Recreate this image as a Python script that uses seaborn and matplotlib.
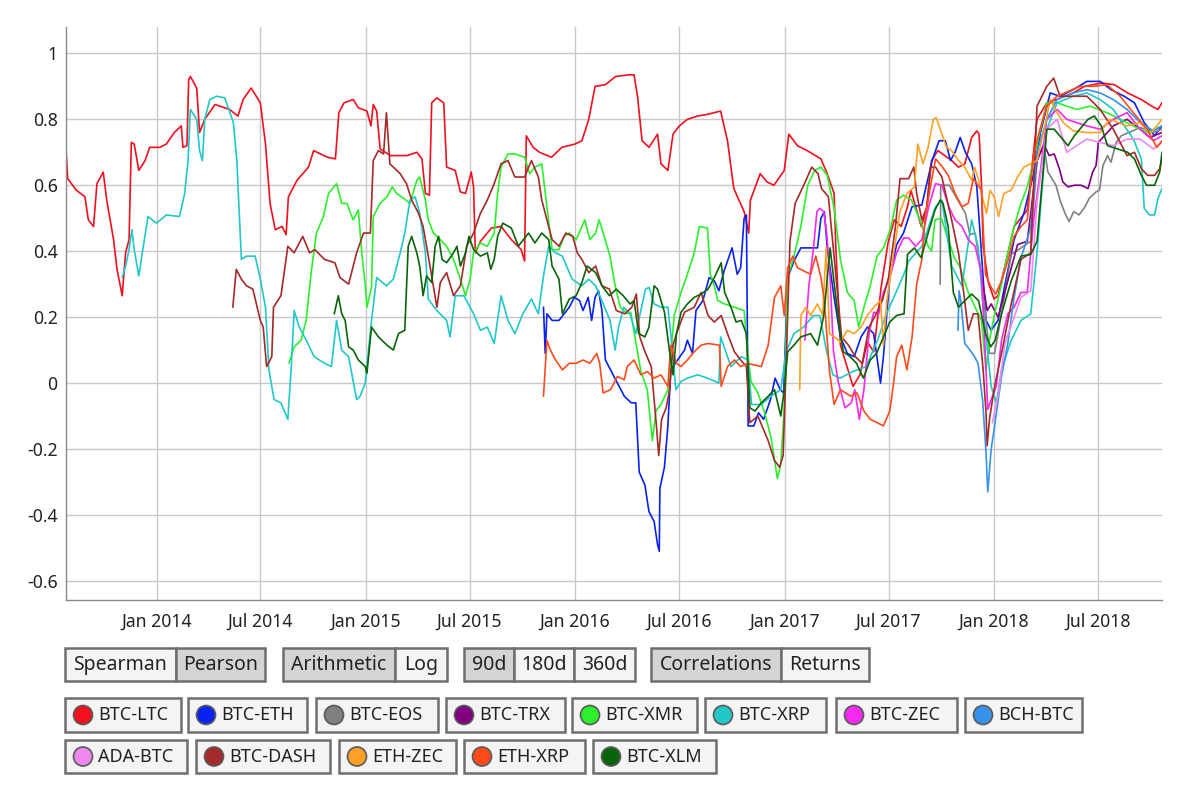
import pandas as pd
import matplotlib.pyplot as plt
import matplotlib.patches as mpatches
import seaborn as sns

# 90d rolling correlations (date, value)
btc_ltc = [
    ("2013-07-27", 0.71), ("2013-07-30", 0.62), ("2013-08-14", 0.585), ("2013-08-29", 0.565),
    ("2013-09-04", 0.495), ("2013-09-13", 0.475), ("2013-09-19", 0.605), ("2013-09-30", 0.64),
    ("2013-10-06", 0.555), ("2013-10-18", 0.435), ("2013-10-24", 0.345), ("2013-11-02", 0.265),
    ("2013-11-08", 0.395), ("2013-11-14", 0.435), ("2013-11-18", 0.73), ("2013-11-23", 0.725),
    ("2013-12-01", 0.645), ("2013-12-12", 0.675), ("2013-12-20", 0.715), ("2014-01-07", 0.715),
    ("2014-01-18", 0.725), ("2014-02-01", 0.76), ("2014-02-13", 0.78), ("2014-02-16", 0.715),
    ("2014-02-23", 0.72), ("2014-02-26", 0.92), ("2014-03-01", 0.93), ("2014-03-12", 0.895),
    ("2014-03-17", 0.76), ("2014-03-26", 0.80), ("2014-04-13", 0.845), ("2014-05-08", 0.83),
    ("2014-05-23", 0.81), ("2014-06-01", 0.86), ("2014-06-15", 0.895), ("2014-07-01", 0.85),
    ("2014-07-10", 0.725), ("2014-07-18", 0.545), ("2014-07-27", 0.465), ("2014-08-08", 0.475),
    ("2014-08-15", 0.45), ("2014-08-19", 0.565), ("2014-09-03", 0.615), ("2014-09-23", 0.655),
    ("2014-10-02", 0.705), ("2014-10-26", 0.685), ("2014-11-09", 0.68), ("2014-11-15", 0.82),
    ("2014-11-24", 0.85), ("2014-12-10", 0.86), ("2014-12-19", 0.835), ("2015-01-03", 0.825),
    ("2015-01-10", 0.78), ("2015-01-14", 0.845), ("2015-01-20", 0.825), ("2015-01-26", 0.71),
    ("2015-02-13", 0.69), ("2015-03-14", 0.69), ("2015-03-31", 0.70), ("2015-04-09", 0.68),
    ("2015-04-15", 0.575), ("2015-04-22", 0.57), ("2015-04-26", 0.85), ("2015-05-05", 0.865),
    ("2015-05-17", 0.85), ("2015-05-22", 0.655), ("2015-06-06", 0.645), ("2015-06-15", 0.58),
    ("2015-06-24", 0.575), ("2015-07-04", 0.64), ("2015-07-08", 0.595), ("2015-07-11", 0.395),
    ("2015-07-20", 0.43), ("2015-08-08", 0.47), ("2015-08-25", 0.475), ("2015-09-12", 0.435),
    ("2015-09-29", 0.405), ("2015-10-05", 0.37), ("2015-10-08", 0.75), ("2015-10-20", 0.715),
    ("2015-10-31", 0.70), ("2015-11-21", 0.685), ("2015-12-09", 0.715), ("2016-01-01", 0.725),
    ("2016-01-13", 0.735), ("2016-01-25", 0.80), ("2016-02-05", 0.90), ("2016-02-23", 0.905),
    ("2016-03-12", 0.93), ("2016-04-04", 0.935), ("2016-04-13", 0.935), ("2016-04-19", 0.87),
    ("2016-04-27", 0.735), ("2016-05-09", 0.715), ("2016-05-24", 0.755), ("2016-05-30", 0.665),
    ("2016-06-11", 0.645), ("2016-06-20", 0.755), ("2016-07-01", 0.78), ("2016-07-15", 0.80),
    ("2016-08-02", 0.81), ("2016-08-19", 0.815), ("2016-09-11", 0.825), ("2016-09-23", 0.735),
    ("2016-10-04", 0.59), ("2016-10-22", 0.52), ("2016-10-30", 0.455), ("2016-11-02", 0.555),
    ("2016-11-19", 0.635), ("2016-12-01", 0.61), ("2016-12-13", 0.60), ("2016-12-31", 0.645),
    ("2017-01-08", 0.755), ("2017-01-23", 0.72), ("2017-02-09", 0.705), ("2017-03-05", 0.68),
    ("2017-03-16", 0.635), ("2017-03-28", 0.575), ("2017-03-31", 0.41), ("2017-04-08", 0.115),
    ("2017-04-30", -0.01), ("2017-05-12", 0.025), ("2017-05-25", 0.125), ("2017-06-05", 0.095),
    ("2017-06-18", 0.29), ("2017-06-30", 0.425), ("2017-07-11", 0.495), ("2017-07-23", 0.475),
    ("2017-08-03", 0.535), ("2017-08-09", 0.585), ("2017-08-27", 0.475), ("2017-09-05", 0.525),
    ("2017-09-14", 0.675), ("2017-09-25", 0.705), ("2017-10-19", 0.675), ("2017-10-31", 0.655),
    ("2017-11-11", 0.665), ("2017-11-23", 0.745), ("2017-12-02", 0.765), ("2017-12-06", 0.755),
    ("2017-12-10", 0.605), ("2017-12-13", 0.415), ("2017-12-22", 0.305), ("2018-01-01", 0.255),
    ("2018-01-08", 0.265), ("2018-02-05", 0.475), ("2018-02-28", 0.525), ("2018-03-17", 0.80),
    ("2018-04-03", 0.85), ("2018-04-20", 0.86), ("2018-05-19", 0.88), ("2018-06-08", 0.90),
    ("2018-07-07", 0.91), ("2018-07-30", 0.905), ("2018-08-22", 0.88), ("2018-09-15", 0.86),
    ("2018-10-03", 0.84), ("2018-10-14", 0.83), ("2018-10-21", 0.85),
]

btc_eth = [
    ("2015-11-07", 0.23), ("2015-11-10", 0.09), ("2015-11-13", 0.21), ("2015-11-22", 0.19),
    ("2015-12-04", 0.19), ("2015-12-13", 0.21), ("2015-12-22", 0.23), ("2015-12-31", 0.26),
    ("2016-01-09", 0.25), ("2016-01-15", 0.22), ("2016-01-24", 0.26), ("2016-01-30", 0.19),
    ("2016-02-05", 0.26), ("2016-02-11", 0.28), ("2016-02-17", 0.22), ("2016-02-23", 0.07),
    ("2016-03-03", 0.04), ("2016-03-15", 0.00), ("2016-03-27", -0.04), ("2016-04-08", -0.06),
    ("2016-04-16", -0.06), ("2016-04-22", -0.27), ("2016-05-02", -0.31), ("2016-05-09", -0.39),
    ("2016-05-18", -0.42), ("2016-05-24", -0.49), ("2016-05-27", -0.51), ("2016-05-28", -0.32),
    ("2016-06-05", -0.255), ("2016-06-11", -0.13), ("2016-06-16", 0.04), ("2016-06-28", 0.07),
    ("2016-07-10", 0.10), ("2016-07-15", 0.13), ("2016-07-24", 0.09), ("2016-07-30", 0.22),
    ("2016-08-11", 0.25), ("2016-08-22", 0.32), ("2016-08-31", 0.31), ("2016-09-08", 0.28),
    ("2016-09-17", 0.34), ("2016-09-23", 0.37), ("2016-10-01", 0.41), ("2016-10-10", 0.33),
    ("2016-10-16", 0.35), ("2016-10-22", 0.50), ("2016-10-26", 0.51), ("2016-10-29", -0.13),
    ("2016-11-08", -0.13), ("2016-11-16", -0.09), ("2016-11-25", -0.11), ("2016-12-07", -0.05),
    ("2016-12-15", 0.015), ("2016-12-24", -0.02), ("2016-12-30", -0.03), ("2017-01-06", 0.32),
    ("2017-01-17", 0.37), ("2017-01-29", 0.41), ("2017-02-15", 0.41), ("2017-02-27", 0.41),
    ("2017-03-05", 0.50), ("2017-03-11", 0.52), ("2017-03-16", 0.41), ("2017-03-28", 0.26),
    ("2017-04-08", 0.14), ("2017-04-20", 0.09), ("2017-05-02", 0.08), ("2017-05-14", 0.14),
    ("2017-05-25", 0.17), ("2017-06-05", 0.15), ("2017-06-17", 0.00), ("2017-06-22", 0.08),
    ("2017-07-03", 0.32), ("2017-07-15", 0.42), ("2017-07-27", 0.455), ("2017-08-11", 0.535),
    ("2017-08-28", 0.54), ("2017-09-15", 0.675), ("2017-09-27", 0.735), ("2017-10-08", 0.735),
    ("2017-10-17", 0.675), ("2017-10-25", 0.70), ("2017-11-03", 0.745), ("2017-11-12", 0.70),
    ("2017-11-23", 0.665), ("2017-12-02", 0.595), ("2017-12-10", 0.395), ("2017-12-18", 0.19),
    ("2017-12-27", 0.16), ("2018-01-08", 0.19), ("2018-01-19", 0.29), ("2018-02-05", 0.435),
    ("2018-02-22", 0.515), ("2018-03-11", 0.635), ("2018-03-23", 0.76), ("2018-04-09", 0.88),
    ("2018-04-26", 0.87), ("2018-05-19", 0.89), ("2018-06-12", 0.915), ("2018-07-05", 0.915),
    ("2018-07-24", 0.89), ("2018-08-16", 0.87), ("2018-09-03", 0.85), ("2018-09-20", 0.79),
    ("2018-10-08", 0.75), ("2018-10-21", 0.78),
]

btc_eos = [
    ("2017-09-29", 0.30), ("2017-09-30", 0.60), ("2017-10-15", 0.60), ("2017-11-12", 0.515),
    ("2017-11-20", 0.45), ("2017-11-29", 0.455), ("2017-12-10", 0.33), ("2017-12-18", 0.19),
    ("2017-12-24", 0.09), ("2018-01-02", 0.09), ("2018-01-14", 0.21), ("2018-01-31", 0.39),
    ("2018-02-17", 0.41), ("2018-03-06", 0.43), ("2018-03-17", 0.675), ("2018-03-29", 0.72),
    ("2018-04-05", 0.64), ("2018-04-19", 0.60), ("2018-04-27", 0.55), ("2018-05-06", 0.51),
    ("2018-05-12", 0.49), ("2018-05-20", 0.52), ("2018-05-29", 0.51), ("2018-06-07", 0.53),
    ("2018-06-16", 0.56), ("2018-06-28", 0.58), ("2018-07-04", 0.585), ("2018-07-10", 0.66),
    ("2018-07-18", 0.69), ("2018-07-24", 0.67), ("2018-08-02", 0.73), ("2018-08-11", 0.75),
    ("2018-09-13", 0.775), ("2018-10-06", 0.76), ("2018-10-21", 0.77),
]

btc_trx = [
    ("2017-12-10", 0.33), ("2017-12-20", 0.22), ("2017-12-27", 0.24), ("2018-01-08", 0.20),
    ("2018-01-25", 0.31), ("2018-02-11", 0.42), ("2018-02-28", 0.43), ("2018-03-17", 0.675),
    ("2018-03-29", 0.725), ("2018-04-07", 0.69), ("2018-04-16", 0.695), ("2018-04-25", 0.65),
    ("2018-05-01", 0.61), ("2018-05-10", 0.595), ("2018-05-21", 0.60), ("2018-06-02", 0.60),
    ("2018-06-14", 0.59), ("2018-06-22", 0.64), ("2018-06-28", 0.66), ("2018-07-02", 0.73),
    ("2018-07-28", 0.78), ("2018-08-21", 0.80), ("2018-09-13", 0.77), ("2018-09-30", 0.745),
    ("2018-10-21", 0.76),
]

btc_xmr = [
    ("2014-08-20", 0.06), ("2014-08-29", 0.11), ("2014-09-10", 0.13), ("2014-09-19", 0.19),
    ("2014-09-28", 0.34), ("2014-10-07", 0.455), ("2014-10-19", 0.505), ("2014-10-28", 0.575),
    ("2014-11-11", 0.605), ("2014-11-20", 0.545), ("2014-11-29", 0.545), ("2014-12-10", 0.495),
    ("2014-12-19", 0.525), ("2014-12-25", 0.395), ("2014-12-31", 0.30), ("2015-01-03", 0.23),
    ("2015-01-11", 0.29), ("2015-01-14", 0.505), ("2015-01-26", 0.545), ("2015-02-07", 0.565),
    ("2015-02-16", 0.595), ("2015-02-24", 0.575), ("2015-03-08", 0.56), ("2015-03-19", 0.545),
    ("2015-03-31", 0.615), ("2015-04-05", 0.625), ("2015-04-15", 0.555), ("2015-04-20", 0.495),
    ("2015-04-29", 0.455), ("2015-05-11", 0.435), ("2015-05-22", 0.415), ("2015-06-03", 0.375),
    ("2015-06-15", 0.315), ("2015-06-24", 0.265), ("2015-07-02", 0.315), ("2015-07-08", 0.395),
    ("2015-07-20", 0.425), ("2015-08-01", 0.415), ("2015-08-13", 0.455), ("2015-08-19", 0.575),
    ("2015-08-25", 0.655), ("2015-09-06", 0.695), ("2015-09-18", 0.695), ("2015-10-05", 0.685),
    ("2015-10-14", 0.635), ("2015-10-23", 0.655), ("2015-11-04", 0.665), ("2015-11-13", 0.535),
    ("2015-11-22", 0.405), ("2015-12-04", 0.405), ("2015-12-13", 0.445), ("2015-12-22", 0.455),
    ("2016-01-03", 0.435), ("2016-01-18", 0.495), ("2016-01-27", 0.435), ("2016-02-06", 0.455),
    ("2016-02-12", 0.495), ("2016-02-21", 0.445), ("2016-03-02", 0.385), ("2016-03-11", 0.295),
    ("2016-03-20", 0.23), ("2016-04-01", 0.21), ("2016-04-07", 0.215), ("2016-04-17", 0.115),
    ("2016-04-25", 0.035), ("2016-05-06", -0.02), ("2016-05-15", -0.175), ("2016-05-21", -0.085),
    ("2016-05-30", -0.065), ("2016-06-11", -0.02), ("2016-06-22", 0.205), ("2016-07-04", 0.275),
    ("2016-07-15", 0.33), ("2016-07-27", 0.395), ("2016-08-05", 0.475), ("2016-08-19", 0.47),
    ("2016-08-24", 0.33), ("2016-08-31", 0.295), ("2016-09-06", 0.25), ("2016-09-18", 0.24),
    ("2016-10-05", 0.23), ("2016-10-22", 0.22), ("2016-10-28", 0.095), ("2016-11-03", 0.005),
    ("2016-11-15", -0.03), ("2016-11-26", -0.085), ("2016-12-08", -0.165), ("2016-12-19", -0.29),
    ("2016-12-25", -0.245), ("2016-12-31", -0.075), ("2017-01-06", 0.32), ("2017-01-17", 0.385),
    ("2017-01-29", 0.475), ("2017-02-10", 0.60), ("2017-02-22", 0.645), ("2017-03-05", 0.655),
    ("2017-03-16", 0.63), ("2017-03-28", 0.53), ("2017-04-08", 0.375), ("2017-04-20", 0.275),
    ("2017-05-02", 0.25), ("2017-05-10", 0.17), ("2017-05-19", 0.23), ("2017-05-30", 0.295),
    ("2017-06-11", 0.385), ("2017-06-22", 0.41), ("2017-07-04", 0.465), ("2017-07-15", 0.555),
    ("2017-07-27", 0.57), ("2017-08-10", 0.555), ("2017-08-27", 0.485), ("2017-09-08", 0.415),
    ("2017-09-14", 0.40), ("2017-09-20", 0.495), ("2017-10-01", 0.50), ("2017-10-13", 0.435),
    ("2017-10-25", 0.375), ("2017-11-02", 0.355), ("2017-11-17", 0.275), ("2017-11-29", 0.23),
    ("2017-12-10", 0.19), ("2017-12-18", 0.04), ("2017-12-24", 0.13), ("2018-01-02", 0.21),
    ("2018-01-14", 0.30), ("2018-01-25", 0.395), ("2018-02-05", 0.475), ("2018-02-17", 0.545),
    ("2018-02-28", 0.595), ("2018-03-11", 0.675), ("2018-03-23", 0.77), ("2018-04-03", 0.85),
    ("2018-04-21", 0.85), ("2018-05-08", 0.84), ("2018-05-25", 0.83), ("2018-06-18", 0.84),
    ("2018-07-17", 0.82), ("2018-08-09", 0.80), ("2018-09-01", 0.78), ("2018-09-25", 0.76),
    ("2018-10-21", 0.78),
]

btc_xrp = [
    ("2013-11-02", 0.32), ("2013-11-08", 0.355), ("2013-11-14", 0.405), ("2013-11-19", 0.465),
    ("2013-11-23", 0.405), ("2013-12-01", 0.325), ("2013-12-08", 0.405), ("2013-12-17", 0.505),
    ("2014-01-01", 0.485), ("2014-01-18", 0.51), ("2014-02-10", 0.505), ("2014-02-19", 0.575),
    ("2014-02-25", 0.675), ("2014-03-01", 0.83), ("2014-03-12", 0.80), ("2014-03-17", 0.705),
    ("2014-03-22", 0.675), ("2014-03-26", 0.80), ("2014-04-04", 0.86), ("2014-04-16", 0.87),
    ("2014-04-30", 0.865), ("2014-05-15", 0.79), ("2014-05-21", 0.675), ("2014-05-29", 0.375),
    ("2014-06-07", 0.385), ("2014-06-22", 0.385), ("2014-07-01", 0.315), ("2014-07-10", 0.23),
    ("2014-07-16", 0.04), ("2014-07-25", -0.05), ("2014-08-06", -0.06), ("2014-08-18", -0.11),
    ("2014-08-24", 0.05), ("2014-08-29", 0.22), ("2014-09-07", 0.17), ("2014-09-19", 0.13),
    ("2014-10-03", 0.08), ("2014-10-21", 0.06), ("2014-11-02", 0.05), ("2014-11-11", 0.19),
    ("2014-11-20", 0.10), ("2014-12-02", 0.08), ("2014-12-16", -0.05), ("2014-12-22", -0.04),
    ("2014-12-31", 0.0), ("2015-01-11", 0.19), ("2015-01-20", 0.32), ("2015-02-06", 0.295),
    ("2015-02-18", 0.315), ("2015-03-02", 0.395), ("2015-03-10", 0.455), ("2015-03-19", 0.555),
    ("2015-03-28", 0.565), ("2015-04-05", 0.515), ("2015-04-15", 0.395), ("2015-04-20", 0.255),
    ("2015-05-05", 0.22), ("2015-05-22", 0.19), ("2015-05-28", 0.14), ("2015-06-06", 0.265),
    ("2015-06-21", 0.265), ("2015-07-08", 0.21), ("2015-07-20", 0.16), ("2015-08-01", 0.17),
    ("2015-08-13", 0.12), ("2015-08-25", 0.265), ("2015-09-06", 0.19), ("2015-09-18", 0.15),
    ("2015-10-02", 0.21), ("2015-10-17", 0.255), ("2015-10-29", 0.21), ("2015-11-07", 0.325),
    ("2015-11-16", 0.415), ("2015-11-28", 0.395), ("2015-12-10", 0.385), ("2015-12-27", 0.315),
    ("2016-01-13", 0.295), ("2016-01-25", 0.315), ("2016-02-06", 0.295), ("2016-02-19", 0.24),
    ("2016-03-02", 0.19), ("2016-03-11", 0.10), ("2016-03-17", 0.17), ("2016-03-26", 0.23),
    ("2016-04-06", 0.21), ("2016-04-16", 0.15), ("2016-05-03", 0.285), ("2016-05-09", 0.29),
    ("2016-05-18", 0.24), ("2016-05-30", 0.23), ("2016-06-11", 0.23), ("2016-06-16", 0.15),
    ("2016-06-25", -0.02), ("2016-07-04", 0.005), ("2016-07-15", 0.015), ("2016-08-02", 0.025),
    ("2016-08-19", 0.015), ("2016-09-08", 0.0), ("2016-09-11", 0.14), ("2016-09-29", 0.05),
    ("2016-10-17", 0.08), ("2016-10-29", 0.07), ("2016-11-04", -0.065), ("2016-11-21", -0.065),
    ("2016-12-08", -0.04), ("2016-12-25", -0.02), ("2017-01-03", 0.095), ("2017-01-17", 0.15),
    ("2017-02-03", 0.17), ("2017-02-20", 0.205), ("2017-03-03", 0.205), ("2017-03-15", 0.095),
    ("2017-03-26", 0.025), ("2017-04-07", 0.015), ("2017-04-30", 0.035), ("2017-05-23", 0.05),
    ("2017-06-14", 0.14), ("2017-06-26", 0.205), ("2017-07-14", 0.275), ("2017-07-30", 0.34),
    ("2017-08-05", 0.37), ("2017-08-28", 0.415), ("2017-09-21", 0.535), ("2017-10-02", 0.555),
    ("2017-10-19", 0.355), ("2017-11-06", 0.295), ("2017-11-23", 0.495), ("2017-12-04", 0.415),
    ("2017-12-15", 0.19), ("2017-12-27", -0.01), ("2018-01-05", -0.06), ("2018-01-14", 0.04),
    ("2018-01-31", 0.13), ("2018-02-17", 0.19), ("2018-03-06", 0.21), ("2018-03-17", 0.395),
    ("2018-04-03", 0.77), ("2018-04-21", 0.85), ("2018-05-19", 0.87), ("2018-06-12", 0.88),
    ("2018-07-05", 0.86), ("2018-07-28", 0.83), ("2018-09-01", 0.74), ("2018-09-15", 0.68),
    ("2018-09-20", 0.53), ("2018-09-29", 0.51), ("2018-10-08", 0.51), ("2018-10-14", 0.56),
    ("2018-10-21", 0.59),
]

btc_zec = [
    ("2017-02-05", 0.13), ("2017-02-12", 0.295), ("2017-02-20", 0.41), ("2017-02-26", 0.52),
    ("2017-03-03", 0.53), ("2017-03-10", 0.52), ("2017-03-15", 0.455), ("2017-03-21", 0.32),
    ("2017-03-27", 0.095), ("2017-04-04", 0.005), ("2017-04-16", -0.075), ("2017-04-27", -0.06),
    ("2017-05-03", -0.02), ("2017-05-11", -0.11), ("2017-05-19", -0.02), ("2017-05-28", 0.15),
    ("2017-06-05", 0.215), ("2017-06-14", 0.21), ("2017-06-22", 0.275), ("2017-07-03", 0.32),
    ("2017-07-15", 0.395), ("2017-07-27", 0.44), ("2017-08-05", 0.44), ("2017-08-17", 0.415),
    ("2017-08-28", 0.435), ("2017-09-09", 0.535), ("2017-09-21", 0.605), ("2017-10-02", 0.60),
    ("2017-10-14", 0.535), ("2017-10-25", 0.495), ("2017-11-06", 0.475), ("2017-11-17", 0.435),
    ("2017-11-29", 0.415), ("2017-12-10", 0.335), ("2017-12-18", 0.04), ("2017-12-21", -0.08),
    ("2017-12-27", -0.05), ("2018-01-05", -0.01), ("2018-01-14", 0.13), ("2018-01-25", 0.21),
    ("2018-02-05", 0.23), ("2018-02-17", 0.275), ("2018-02-28", 0.275), ("2018-03-11", 0.495),
    ("2018-03-23", 0.645), ("2018-04-03", 0.80), ("2018-04-21", 0.83), ("2018-05-08", 0.80),
    ("2018-05-25", 0.79), ("2018-06-12", 0.78), ("2018-07-05", 0.77), ("2018-07-28", 0.80),
    ("2018-08-21", 0.82), ("2018-09-13", 0.77), ("2018-10-06", 0.735), ("2018-10-21", 0.75),
]

bch_btc = [
    ("2017-10-30", 0.16), ("2017-11-01", 0.28), ("2017-11-04", 0.25), ("2017-11-11", 0.12),
    ("2017-11-20", 0.10), ("2017-11-28", 0.08), ("2017-12-04", 0.06), ("2017-12-12", -0.05),
    ("2017-12-18", -0.21), ("2017-12-21", -0.33), ("2017-12-27", -0.20), ("2018-01-02", -0.13),
    ("2018-01-14", 0.02), ("2018-01-25", 0.12), ("2018-02-05", 0.26), ("2018-02-17", 0.38),
    ("2018-03-06", 0.47), ("2018-03-17", 0.70), ("2018-04-03", 0.80), ("2018-04-21", 0.86),
    ("2018-05-19", 0.88), ("2018-06-12", 0.89), ("2018-07-05", 0.88), ("2018-07-28", 0.86),
    ("2018-08-21", 0.83), ("2018-09-13", 0.79), ("2018-10-06", 0.765), ("2018-10-21", 0.78),
]

ada_btc = [
    ("2017-12-29", -0.12), ("2018-01-08", -0.04), ("2018-01-20", 0.12), ("2018-02-05", 0.20),
    ("2018-02-17", 0.26), ("2018-03-06", 0.28), ("2018-03-17", 0.55), ("2018-04-03", 0.77),
    ("2018-04-21", 0.80), ("2018-05-08", 0.70), ("2018-05-25", 0.72), ("2018-06-12", 0.74),
    ("2018-07-05", 0.73), ("2018-07-28", 0.72), ("2018-08-21", 0.74), ("2018-09-13", 0.74),
    ("2018-10-06", 0.71), ("2018-10-21", 0.73),
]

btc_dash = [
    ("2014-05-14", 0.23), ("2014-05-20", 0.345), ("2014-05-29", 0.315), ("2014-06-07", 0.295),
    ("2014-06-18", 0.285), ("2014-07-01", 0.19), ("2014-07-06", 0.17), ("2014-07-12", 0.05),
    ("2014-07-21", 0.08), ("2014-07-24", 0.23), ("2014-08-06", 0.265), ("2014-08-18", 0.415),
    ("2014-08-29", 0.395), ("2014-09-13", 0.445), ("2014-09-25", 0.395), ("2014-10-04", 0.405),
    ("2014-10-21", 0.375), ("2014-11-08", 0.365), ("2014-11-17", 0.32), ("2014-12-02", 0.30),
    ("2014-12-16", 0.395), ("2014-12-28", 0.455), ("2015-01-09", 0.455), ("2015-01-14", 0.675),
    ("2015-01-23", 0.705), ("2015-02-01", 0.695), ("2015-02-06", 0.82), ("2015-02-12", 0.665),
    ("2015-03-02", 0.635), ("2015-03-13", 0.605), ("2015-03-22", 0.555), ("2015-04-03", 0.515),
    ("2015-04-11", 0.475), ("2015-04-23", 0.355), ("2015-05-05", 0.23), ("2015-05-11", 0.305),
    ("2015-05-22", 0.335), ("2015-06-03", 0.265), ("2015-06-15", 0.295), ("2015-06-26", 0.415),
    ("2015-07-08", 0.455), ("2015-07-20", 0.515), ("2015-08-01", 0.555), ("2015-08-13", 0.605),
    ("2015-08-25", 0.665), ("2015-09-06", 0.675), ("2015-09-18", 0.625), ("2015-10-05", 0.625),
    ("2015-10-17", 0.675), ("2015-10-29", 0.625), ("2015-11-04", 0.555), ("2015-11-13", 0.495),
    ("2015-11-22", 0.435), ("2015-12-04", 0.415), ("2015-12-16", 0.455), ("2015-12-28", 0.445),
    ("2016-01-05", 0.395), ("2016-01-13", 0.375), ("2016-01-25", 0.335), ("2016-02-06", 0.355),
    ("2016-02-17", 0.295), ("2016-03-01", 0.285), ("2016-03-13", 0.22), ("2016-03-28", 0.21),
    ("2016-04-09", 0.23), ("2016-04-17", 0.27), ("2016-04-23", 0.14), ("2016-05-02", 0.095),
    ("2016-05-13", 0.05), ("2016-05-22", -0.13), ("2016-05-26", -0.22), ("2016-05-31", -0.11),
    ("2016-06-08", -0.075), ("2016-06-14", -0.02), ("2016-06-20", 0.115), ("2016-06-26", 0.15),
    ("2016-07-10", 0.215), ("2016-07-27", 0.23), ("2016-08-08", 0.275), ("2016-08-20", 0.205),
    ("2016-08-31", 0.185), ("2016-09-12", 0.205), ("2016-09-23", 0.15), ("2016-10-05", 0.095),
    ("2016-10-16", 0.07), ("2016-10-26", 0.05), ("2016-11-01", -0.12), ("2016-11-15", -0.10),
    ("2016-12-03", -0.175), ("2016-12-14", -0.235), ("2016-12-23", -0.255), ("2016-12-29", -0.22),
    ("2017-01-04", 0.095), ("2017-01-10", 0.43), ("2017-01-19", 0.545), ("2017-02-03", 0.60),
    ("2017-02-17", 0.655), ("2017-02-28", 0.635), ("2017-03-06", 0.59), ("2017-03-18", 0.565),
    ("2017-03-29", 0.365), ("2017-04-10", 0.14), ("2017-04-22", 0.115), ("2017-05-04", 0.08),
    ("2017-05-16", 0.06), ("2017-05-28", 0.17), ("2017-06-08", 0.205), ("2017-06-20", 0.25),
    ("2017-07-01", 0.32), ("2017-07-13", 0.475), ("2017-07-21", 0.62), ("2017-08-05", 0.62),
    ("2017-08-14", 0.655), ("2017-08-19", 0.575), ("2017-08-28", 0.495), ("2017-09-06", 0.535),
    ("2017-09-12", 0.655), ("2017-09-21", 0.655), ("2017-10-02", 0.625), ("2017-10-19", 0.495),
    ("2017-10-31", 0.395), ("2017-11-09", 0.275), ("2017-11-17", 0.16), ("2017-11-26", 0.21),
    ("2017-12-04", 0.21), ("2017-12-13", 0.04), ("2017-12-18", -0.09), ("2017-12-20", -0.19),
    ("2017-12-24", -0.11), ("2018-01-02", -0.01), ("2018-01-14", 0.09), ("2018-01-31", 0.24),
    ("2018-02-17", 0.375), ("2018-03-06", 0.395), ("2018-03-17", 0.84), ("2018-04-03", 0.90),
    ("2018-04-15", 0.925), ("2018-04-26", 0.87), ("2018-05-19", 0.87), ("2018-06-12", 0.87),
    ("2018-07-05", 0.83), ("2018-07-28", 0.77), ("2018-08-21", 0.69), ("2018-09-03", 0.70),
    ("2018-09-15", 0.65), ("2018-09-26", 0.63), ("2018-10-08", 0.63), ("2018-10-17", 0.65),
    ("2018-10-21", 0.68),
]

eth_zec = [
    ("2017-01-27", -0.02), ("2017-01-29", 0.205), ("2017-02-07", 0.23), ("2017-02-15", 0.205),
    ("2017-02-27", 0.24), ("2017-03-08", 0.205), ("2017-03-14", 0.41), ("2017-03-20", 0.15),
    ("2017-03-28", 0.14), ("2017-04-08", 0.125), ("2017-04-20", 0.16), ("2017-05-02", 0.15),
    ("2017-05-14", 0.17), ("2017-05-25", 0.205), ("2017-06-05", 0.23), ("2017-06-17", 0.25),
    ("2017-06-22", 0.115), ("2017-06-28", 0.25), ("2017-07-09", 0.385), ("2017-07-21", 0.52),
    ("2017-08-02", 0.575), ("2017-08-15", 0.595), ("2017-08-21", 0.725), ("2017-08-30", 0.665),
    ("2017-09-08", 0.715), ("2017-09-17", 0.80), ("2017-09-22", 0.805), ("2017-10-01", 0.76),
    ("2017-10-10", 0.715), ("2017-10-19", 0.705), ("2017-10-31", 0.675), ("2017-11-11", 0.655),
    ("2017-11-23", 0.615), ("2017-11-28", 0.655), ("2017-12-05", 0.615), ("2017-12-13", 0.555),
    ("2017-12-19", 0.515), ("2017-12-25", 0.585), ("2018-01-01", 0.565), ("2018-01-09", 0.505),
    ("2018-01-18", 0.575), ("2018-01-31", 0.585), ("2018-02-11", 0.625), ("2018-02-22", 0.655),
    ("2018-03-06", 0.665), ("2018-03-17", 0.675), ("2018-03-29", 0.765), ("2018-04-09", 0.86),
    ("2018-04-21", 0.82), ("2018-05-02", 0.79), ("2018-05-19", 0.765), ("2018-06-12", 0.76),
    ("2018-07-05", 0.76), ("2018-07-22", 0.80), ("2018-08-21", 0.78), ("2018-09-13", 0.79),
    ("2018-09-30", 0.755), ("2018-10-21", 0.80),
]

eth_xrp = [
    ("2015-11-07", -0.04), ("2015-11-13", 0.13), ("2015-11-19", 0.10), ("2015-11-28", 0.07),
    ("2015-12-10", 0.04), ("2015-12-22", 0.06), ("2016-01-03", 0.06), ("2016-01-15", 0.07),
    ("2016-01-27", 0.06), ("2016-02-08", 0.09), ("2016-02-13", 0.06), ("2016-02-19", -0.03),
    ("2016-03-03", -0.02), ("2016-03-15", 0.02), ("2016-03-27", 0.01), ("2016-04-01", 0.05),
    ("2016-04-13", 0.07), ("2016-04-25", 0.025), ("2016-05-06", 0.035), ("2016-05-18", 0.015),
    ("2016-05-30", 0.025), ("2016-06-11", -0.01), ("2016-06-16", 0.115), ("2016-06-26", 0.06),
    ("2016-07-04", 0.05), ("2016-07-15", 0.07), ("2016-07-27", 0.095), ("2016-08-08", 0.115),
    ("2016-08-20", 0.12), ("2016-09-09", 0.115), ("2016-09-12", -0.01), ("2016-09-23", 0.05),
    ("2016-10-05", 0.07), ("2016-10-16", 0.05), ("2016-10-28", 0.06), ("2016-11-09", 0.055),
    ("2016-11-21", 0.05), ("2016-12-03", 0.115), ("2016-12-14", 0.26), ("2016-12-25", 0.295),
    ("2016-12-31", 0.205), ("2017-01-06", 0.35), ("2017-01-15", 0.385), ("2017-01-23", 0.35),
    ("2017-02-03", 0.34), ("2017-02-15", 0.33), ("2017-02-24", 0.385), ("2017-03-05", 0.32),
    ("2017-03-11", 0.25), ("2017-03-20", 0.035), ("2017-03-28", -0.065), ("2017-04-08", -0.02),
    ("2017-04-26", -0.04), ("2017-05-07", -0.03), ("2017-05-19", -0.085), ("2017-05-30", -0.11),
    ("2017-06-11", -0.12), ("2017-06-22", -0.13), ("2017-07-03", -0.085), ("2017-07-09", -0.01),
    ("2017-07-15", 0.08), ("2017-07-24", 0.115), ("2017-08-02", 0.04), ("2017-08-11", 0.14),
    ("2017-08-19", 0.30), ("2017-08-28", 0.375), ("2017-09-03", 0.505), ("2017-09-15", 0.625),
    ("2017-09-21", 0.68), ("2017-10-01", 0.66), ("2017-10-13", 0.63), ("2017-10-25", 0.575),
    ("2017-11-06", 0.535), ("2017-11-17", 0.545), ("2017-11-26", 0.62), ("2017-12-04", 0.60),
    ("2017-12-10", 0.585), ("2017-12-17", 0.33), ("2017-12-27", 0.29), ("2018-01-04", 0.27),
    ("2018-01-14", 0.31), ("2018-01-25", 0.37), ("2018-02-05", 0.445), ("2018-02-17", 0.475),
    ("2018-02-28", 0.495), ("2018-03-11", 0.695), ("2018-03-23", 0.775), ("2018-04-03", 0.84),
    ("2018-04-21", 0.87), ("2018-05-31", 0.90), ("2018-06-23", 0.90), ("2018-07-17", 0.905),
    ("2018-08-09", 0.87), ("2018-09-01", 0.82), ("2018-09-25", 0.77), ("2018-10-12", 0.715),
    ("2018-10-21", 0.735),
]

btc_xlm = [
    ("2014-11-07", 0.21), ("2014-11-14", 0.265), ("2014-11-20", 0.21), ("2014-11-26", 0.19),
    ("2014-12-02", 0.11), ("2014-12-10", 0.10), ("2014-12-19", 0.07), ("2014-12-31", 0.05),
    ("2015-01-03", 0.03), ("2015-01-11", 0.17), ("2015-01-23", 0.14), ("2015-02-07", 0.115),
    ("2015-02-18", 0.10), ("2015-02-27", 0.15), ("2015-03-10", 0.16), ("2015-03-16", 0.415),
    ("2015-03-22", 0.445), ("2015-03-31", 0.395), ("2015-04-05", 0.355), ("2015-04-11", 0.265),
    ("2015-04-17", 0.325), ("2015-04-26", 0.305), ("2015-05-02", 0.415), ("2015-05-08", 0.445),
    ("2015-05-14", 0.375), ("2015-05-22", 0.365), ("2015-06-03", 0.395), ("2015-06-09", 0.415),
    ("2015-06-15", 0.355), ("2015-06-24", 0.395), ("2015-06-30", 0.445), ("2015-07-08", 0.405),
    ("2015-07-20", 0.385), ("2015-08-01", 0.395), ("2015-08-07", 0.345), ("2015-08-13", 0.375),
    ("2015-08-19", 0.445), ("2015-08-28", 0.485), ("2015-09-12", 0.47), ("2015-09-24", 0.415),
    ("2015-10-12", 0.455), ("2015-10-23", 0.425), ("2015-11-04", 0.455), ("2015-11-16", 0.435),
    ("2015-11-22", 0.355), ("2015-12-04", 0.315), ("2015-12-10", 0.21), ("2015-12-22", 0.255),
    ("2016-01-03", 0.265), ("2016-01-13", 0.305), ("2016-01-22", 0.355), ("2016-02-06", 0.335),
    ("2016-02-17", 0.295), ("2016-03-01", 0.265), ("2016-03-13", 0.285), ("2016-03-25", 0.265),
    ("2016-04-06", 0.24), ("2016-04-13", 0.25), ("2016-04-21", 0.15), ("2016-05-02", 0.14),
    ("2016-05-09", 0.17), ("2016-05-18", 0.295), ("2016-05-24", 0.285), ("2016-06-05", 0.215),
    ("2016-06-14", 0.095), ("2016-06-20", 0.025), ("2016-06-26", 0.15), ("2016-07-04", 0.215),
    ("2016-07-15", 0.24), ("2016-07-27", 0.26), ("2016-08-08", 0.27), ("2016-08-20", 0.285),
    ("2016-08-31", 0.32), ("2016-09-12", 0.365), ("2016-09-18", 0.275), ("2016-09-29", 0.23),
    ("2016-10-08", 0.185), ("2016-10-17", 0.19), ("2016-10-26", 0.15), ("2016-11-01", -0.075),
    ("2016-11-10", -0.085), ("2016-11-21", -0.06), ("2016-12-03", -0.04), ("2016-12-14", -0.02),
    ("2016-12-25", -0.10), ("2016-12-31", -0.02), ("2017-01-06", 0.095), ("2017-01-17", 0.115),
    ("2017-01-29", 0.14), ("2017-02-15", 0.15), ("2017-02-27", 0.115), ("2017-03-10", 0.205),
    ("2017-03-21", 0.41), ("2017-03-27", 0.32), ("2017-04-05", 0.185), ("2017-04-13", 0.095),
    ("2017-04-25", 0.08), ("2017-05-06", 0.06), ("2017-05-18", 0.015), ("2017-05-30", 0.07),
    ("2017-06-10", 0.09), ("2017-06-22", 0.14), ("2017-07-03", 0.185), ("2017-07-15", 0.205),
    ("2017-07-28", 0.21), ("2017-08-03", 0.39), ("2017-08-15", 0.41), ("2017-08-27", 0.38),
    ("2017-09-08", 0.455), ("2017-09-20", 0.525), ("2017-09-29", 0.555), ("2017-10-04", 0.545),
    ("2017-10-13", 0.475), ("2017-10-22", 0.275), ("2017-10-31", 0.23), ("2017-11-11", 0.25),
    ("2017-11-23", 0.27), ("2017-12-05", 0.25), ("2017-12-17", 0.15), ("2017-12-26", 0.11),
    ("2018-01-03", 0.13), ("2018-01-14", 0.21), ("2018-01-31", 0.31), ("2018-02-17", 0.385),
    ("2018-03-06", 0.39), ("2018-03-17", 0.43), ("2018-04-03", 0.77), ("2018-04-16", 0.77),
    ("2018-05-10", 0.72), ("2018-05-21", 0.75), ("2018-06-14", 0.80), ("2018-06-25", 0.81),
    ("2018-07-07", 0.78), ("2018-07-18", 0.72), ("2018-08-05", 0.71), ("2018-08-22", 0.70),
    ("2018-09-03", 0.68), ("2018-09-15", 0.63), ("2018-09-24", 0.60), ("2018-10-08", 0.60),
    ("2018-10-17", 0.64), ("2018-10-21", 0.70),
]

pairs = ["BTC-LTC", "BTC-ETH", "BTC-EOS", "BTC-TRX", "BTC-XMR", "BTC-XRP", "BTC-ZEC",
         "BCH-BTC", "ADA-BTC", "BTC-DASH", "ETH-ZEC", "ETH-XRP", "BTC-XLM"]
pair_data = [btc_ltc, btc_eth, btc_eos, btc_trx, btc_xmr, btc_xrp, btc_zec,
             bch_btc, ada_btc, btc_dash, eth_zec, eth_xrp, btc_xlm]
pair_colors = ["#f2101e", "#0a22f0", "#808080", "#800080", "#2cf02c", "#22c8c8", "#f529f0",
               "#3792ec", "#ee88ee", "#a52a2a", "#ffa126", "#ff4a1c", "#0a640a"]

x_ticks = ["2014-01-01", "2014-07-01", "2015-01-01", "2015-07-01", "2016-01-01",
           "2016-07-01", "2017-01-01", "2017-07-01", "2018-01-01", "2018-07-01"]
x_tick_labels = ["Jan 2014", "Jul 2014", "Jan 2015", "Jul 2015", "Jan 2016",
                 "Jul 2016", "Jan 2017", "Jul 2017", "Jan 2018", "Jul 2018"]
y_ticks = [-0.6, -0.4, -0.2, 0, 0.2, 0.4, 0.6, 0.8, 1]
y_tick_labels = ["-0.6", "-0.4", "-0.2", "0", "0.2", "0.4", "0.6", "0.8", "1"]

button_groups = [["Spearman", "Pearson"], ["Arithmetic", "Log"],
                 ["90d", "180d", "360d"], ["Correlations", "Returns"]]
button_selected = ["Pearson", "Arithmetic", "90d", "Correlations"]

# long-form table
rows = []
for name, pts in zip(pairs, pair_data):
    for d, v in pts:
        rows.append((name, pd.Timestamp(d), v))
df = pd.DataFrame(rows, columns=["pair", "date", "corr"])

sns.set_theme(style="whitegrid")
plt.rcParams["font.family"] = ["Noto Sans", "DejaVu Sans"]

W, H = 1200, 794
fig = plt.figure(figsize=(W / 100, H / 100), dpi=100)
ax = fig.add_axes([66 / W, 1 - 600 / H, (1162 - 66) / W, (600 - 27) / H])

sns.lineplot(data=df, x="date", y="corr", hue="pair", hue_order=pairs,
             palette=dict(zip(pairs, pair_colors)), estimator=None, sort=False,
             linewidth=1.2, legend=False, ax=ax)

ax.set_xlim(pd.Timestamp("2013-07-27"), pd.Timestamp("2018-10-21"))
ax.set_ylim(-0.658, 1.08)
ax.set_xticks([pd.Timestamp(t) for t in x_ticks])
ax.set_xticklabels(x_tick_labels)
ax.set_yticks(y_ticks)
ax.set_yticklabels(y_tick_labels)
ax.set_xlabel("")
ax.set_ylabel("")
ax.set_facecolor("white")
ax.grid(True, color="#c8c8c8", linewidth=1.0)
ax.tick_params(axis="both", length=0, labelsize=12.7, colors="#222222")
ax.tick_params(axis="x", pad=9)
ax.tick_params(axis="y", pad=6)
for side in ["top", "right"]:
    ax.spines[side].set_visible(False)
for side in ["left", "bottom"]:
    ax.spines[side].set_color("#8a8a8a")
    ax.spines[side].set_linewidth(1.0)


def box(x0, y0, x1, y1, fill):
    fig.add_artist(mpatches.Rectangle((x0 / W, 1 - y1 / H), (x1 - x0) / W, (y1 - y0) / H,
                                      transform=fig.transFigure, facecolor=fill,
                                      edgecolor="#6e6e6e", linewidth=1.8))


# option buttons
btn_edges = [[65, 176, 265], [283, 395, 447], [464, 514, 574, 635], [651, 781, 869]]
for labels, edges in zip(button_groups, btn_edges):
    for i, lab in enumerate(labels):
        x0, x1 = edges[i], edges[i + 1]
        box(x0, 648, x1, 681, "#d4d4d4" if lab in button_selected else "#f4f4f4")
        fig.text((x0 + x1) / 2 / W, 1 - 665 / H, lab, ha="center", va="center",
                 fontsize=14, color="#222222")

# legend chips
chip_spans = [(65, 181), (188, 307), (316, 438), (446, 565), (572, 697), (705, 826),
              (836, 957), (965, 1082), (65, 187), (196, 330), (339, 456), (464, 585), (593, 716)]
for k, (name, col) in enumerate(zip(pairs, pair_colors)):
    x0, x1 = chip_spans[k]
    y0, y1 = (698, 732) if k < 8 else (740, 773)
    box(x0, y0, x1, y1, "#f4f4f4")
    cy = (y0 + y1) / 2
    fig.add_artist(mpatches.Ellipse(((x0 + 18) / W, 1 - cy / H), 19 / W, 19 / H,
                                    transform=fig.transFigure, facecolor=col,
                                    edgecolor="#5a5a5a", linewidth=1.2))
    fig.text((x0 + 33) / W, 1 - cy / H, name, ha="left", va="center",
             fontsize=13, color="#222222")

fig.savefig("out.png", dpi=100, facecolor="white")
